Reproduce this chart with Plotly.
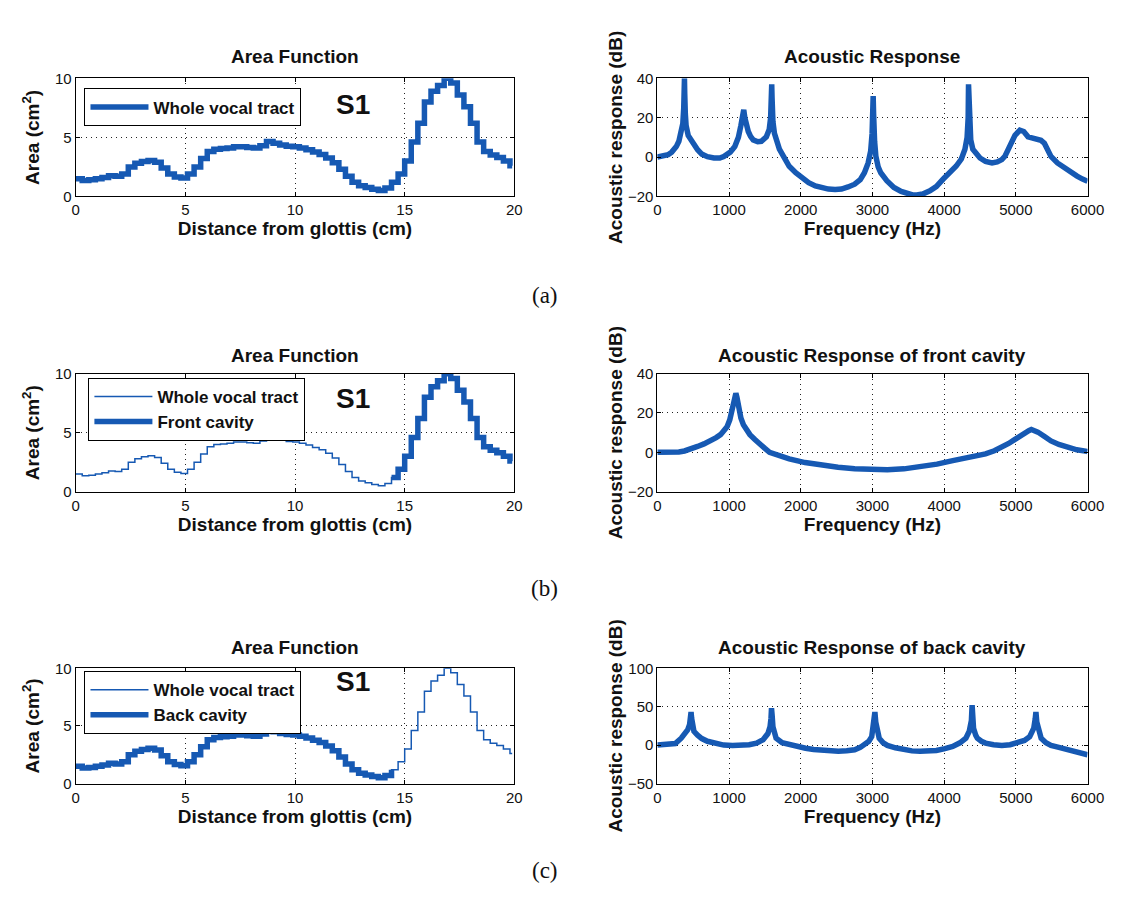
import plotly.graph_objects as go

# ---------------- data ----------------
dist_cm = [0.0, 0.3, 0.6, 0.9, 1.2, 1.5, 1.8, 2.1, 2.4, 2.7,
           3.0, 3.3, 3.6, 3.9, 4.2, 4.5, 4.8, 5.1, 5.4, 5.7,
           6.0, 6.3, 6.6, 6.9, 7.2, 7.5, 7.8, 8.1, 8.4, 8.7,
           9.0, 9.3, 9.6, 9.9, 10.2, 10.5, 10.8, 11.1, 11.4, 11.7,
           12.0, 12.3, 12.6, 12.9, 13.2, 13.5, 13.8, 14.1, 14.4, 14.7,
           15.0, 15.3, 15.6, 15.9, 16.2, 16.5, 16.8, 17.1, 17.4, 17.7,
           18.0, 18.3, 18.6, 18.9, 19.2, 19.5, 19.8, 19.9]
area_cm2 = [1.5, 1.35, 1.4, 1.5, 1.6, 1.75, 1.7, 1.9, 2.5, 2.8,
            2.95, 3.05, 2.9, 2.4, 1.9, 1.65, 1.55, 1.9, 2.5, 3.2,
            3.8, 4.0, 4.05, 4.1, 4.2, 4.2, 4.15, 4.1, 4.3, 4.65,
            4.5, 4.35, 4.25, 4.2, 4.1, 3.95, 3.75, 3.55, 3.25, 2.85,
            2.3, 1.7, 1.2, 0.9, 0.75, 0.6, 0.5, 0.7, 1.2, 1.9,
            3.0, 4.6, 6.2, 8.0, 8.9, 9.4, 10.0, 9.6, 8.6, 7.6,
            6.2, 4.6, 3.8, 3.5, 3.3, 3.0, 2.6, 2.6]
split_index = 48  # section at 14.4 cm separates back and front cavity

freq_a = [0, 100, 150, 200, 264, 300, 333, 355, 368, 375, 378, 382, 390, 401, 430, 470, 520, 561,
          620, 698, 789, 870, 926, 1017, 1080, 1130, 1165, 1190, 1205, 1220, 1245, 1268, 1300,
          1337, 1400, 1450, 1520, 1560, 1580, 1590, 1595, 1600, 1612, 1633, 1702, 1770, 1839,
          1930, 2021, 2110, 2204, 2300, 2386, 2480, 2569, 2660, 2752, 2830, 2888, 2940, 2975,
          2995, 3005, 3010, 3016, 3030, 3048, 3080, 3116, 3200, 3299, 3400, 3482, 3560, 3618,
          3700, 3801, 3890, 3984, 4080, 4166, 4240, 4290, 4320, 4335, 4340, 4348, 4360, 4371,
          4400, 4440, 4500, 4577, 4668, 4740, 4805, 4850, 4896, 4950, 4988, 5056, 5110, 5170,
          5240, 5307, 5350, 5398, 5440, 5490, 5580, 5672, 5760, 5854, 5930, 5991, 6000]
resp_a = [0, 0.5, 1.2, 2.5, 5.3, 8, 12, 17, 25, 35, 40, 32, 22, 16, 11, 8.5, 5.5, 3.7,
          1.5, 0.2, -0.5, -0.5, 0.3, 2.5, 5.3, 10, 16, 22, 24, 20, 15, 13, 10.5,
          8.7, 7.8, 8, 10.3, 14, 20, 30, 37, 30, 18, 12, 4, -0.5, -4.7,
          -8, -10.5, -13, -14.7, -15.8, -16.3, -16.5, -16.3, -15.2, -13.8, -11.5, -8, -3, 3,
          12, 22, 31, 22, 8, 0.3, -5, -8, -12, -15.5, -17.5, -18.8, -19.3, -19.3,
          -18.8, -17.2, -15, -11.3, -8, -4.7, -1, 4, 10, 20, 37, 22, 12, 8.7,
          4, 2, -0.5, -2.2, -3, -2.5, -1.3, 0.5, 3.7, 8, 11, 13.7, 13, 10.3,
          9.6, 9.5, 8.5, 7, 4, 0.3, -3, -5.5, -7.5, -9.7, -11.2, -12.2, -12.3]

freq_b = [0, 150, 300, 378, 470, 561, 650, 744, 820, 881, 930, 972, 1010, 1040, 1072, 1095,
          1110, 1131, 1165, 1200, 1245, 1291, 1360, 1428, 1500, 1565, 1700, 1839, 2060, 2295,
          2520, 2752, 2980, 3208, 3440, 3664, 3900, 4120, 4350, 4577, 4700, 4805, 4900, 4988,
          5060, 5125, 5180, 5216, 5260, 5307, 5400, 5490, 5600, 5717, 5850, 5991, 6000]
resp_b = [0, 0, 0.2, 0.7, 1.6, 3, 4.3, 5.8, 7.5, 9, 11, 13, 16.5, 21, 27, 30,
          28, 22, 17.5, 14, 11, 9, 6.5, 4, 2, 0, -1.8, -3.3, -5.2, -6.6,
          -7.6, -8.3, -8.7, -8.8, -8.4, -7.5, -6, -4.2, -2.5, -0.8, 0.8, 2.5, 4.5, 6.6,
          8.5, 10, 11, 11.6, 11.2, 10.3, 8, 5.8, 4, 2.5, 1.3, 0.5, 0.4]

freq_c = [0, 150, 250, 333, 380, 424, 450, 462, 470, 478, 490, 510, 561, 620, 698, 800,
          926, 1050, 1154, 1280, 1383, 1474, 1542, 1572, 1585, 1592, 1600, 1612, 1656, 1740,
          1839, 1950, 2067, 2180, 2295, 2410, 2524, 2640, 2752, 2830, 2888, 2950, 2990, 3015,
          3025, 3034, 3046, 3070, 3094, 3150, 3208, 3320, 3436, 3550, 3664, 3780, 3892, 4010,
          4120, 4220, 4303, 4350, 4380, 4390, 4398, 4410, 4440, 4463, 4520, 4577, 4690, 4805,
          4920, 5033, 5120, 5193, 5250, 5270, 5280, 5292, 5320, 5353, 5420, 5490, 5600, 5717,
          5850, 5991, 6000]
resp_c = [0, 0.3, 2, 9, 14, 20, 27, 35, 43, 35, 25, 18, 13, 8.5, 5, 2,
          0, -0.5, -0.5, 0.5, 2.6, 7, 15, 24, 35, 48, 40, 24, 9, 3,
          0.4, -2, -4, -5.8, -7, -7.8, -8, -7.3, -6, -3, 0.4, 5, 11, 25,
          36, 43, 30, 14, 9, 3, -0.4, -3.5, -6, -7.5, -8, -7.8, -7, -4.5,
          -1.7, 3, 9, 18, 32, 52, 40, 22, 13, 9, 5, 2.6, 0.5, -0.4,
          0.5, 2.6, 6, 11, 22, 34, 43, 30, 16, 9, 3, -0.4, -3, -6,
          -9, -12.4, -12.6]

area_ticks = [0, 5, 10]
dist_ticks = [0, 5, 10, 15, 20]
freq_ticks = [0, 1000, 2000, 3000, 4000, 5000, 6000]
resp_ticks_ab = [-20, 0, 20, 40]
resp_ticks_c = [-50, 0, 50, 100]

# ---------------- style ----------------
BLUE = "#1659b3"
FONT = "Liberation Sans, Arial, sans-serif"
THICK = 5.5
THIN = 1.5

W, H = 1133, 897
left_dom = [73 / W, 520 / W]
right_dom = [665.7 / W, 1104 / W]
row_dom = {
    "a": [1 - 191 / H, 1 - 70.7 / H],
    "b": [1 - 492 / H, 1 - 371.7 / H],
    "c": [1 - 789.5 / H, 1 - 672 / H],
}

fig = go.Figure()

def area_trace(x, y, width, name, xa, ya, legend, showlegend=True):
    return go.Scatter(x=x, y=y, mode="lines", line=dict(color=BLUE, width=width, shape="hv"),
                      name=name, xaxis=xa, yaxis=ya, legend=legend, showlegend=showlegend)

def resp_trace(x, y, xa, ya):
    return go.Scatter(x=x, y=y, mode="lines", line=dict(color=BLUE, width=5.5),
                      xaxis=xa, yaxis=ya, showlegend=False)

# (a)
fig.add_trace(area_trace(dist_cm, area_cm2, THICK, "Whole vocal tract", "x", "y", "legend"))
fig.add_trace(resp_trace(freq_a, resp_a, "x2", "y2"))
# (b)
fig.add_trace(area_trace(dist_cm, area_cm2, THIN, "Whole vocal tract", "x3", "y3", "legend2"))
fig.add_trace(area_trace(dist_cm[split_index:], area_cm2[split_index:], THICK, "Front cavity",
                         "x3", "y3", "legend2"))
fig.add_trace(resp_trace(freq_b, resp_b, "x4", "y4"))
# (c)
fig.add_trace(area_trace(dist_cm, area_cm2, THIN, "Whole vocal tract", "x5", "y5", "legend3"))
fig.add_trace(area_trace(dist_cm[:split_index + 1], area_cm2[:split_index + 1], THICK, "Back cavity",
                         "x5", "y5", "legend3"))
fig.add_trace(resp_trace(freq_c, resp_c, "x6", "y6"))

def common_axis(domain, anchor, rng, ticks, title, standoff):
    return dict(domain=domain, anchor=anchor, range=rng, tickvals=ticks,
                showline=True, linecolor="black", linewidth=1, mirror="ticks",
                ticks="inside", ticklen=4, tickcolor="black",
                showgrid=True, gridcolor="#222", gridwidth=1, griddash="1px,4px",
                zeroline=False, tickfont=dict(family=FONT, size=15, color="#111"),
                title=dict(text=title, standoff=standoff,
                           font=dict(family=FONT, size=19, color="#111", weight="bold")))

area_title = "Area (cm<sup>2</sup>)"
resp_title = "Acoustic response (dB)"
dist_title = "Distance from glottis (cm)"
freq_title = "Frequency (Hz)"

layout = dict(
    width=W, height=H, autosize=False,
    margin=dict(l=0, r=0, t=0, b=0),
    paper_bgcolor="white", plot_bgcolor="white",
    xaxis=common_axis(left_dom, "y", [0, 20], dist_ticks, dist_title, 1),
    yaxis=common_axis(row_dom["a"], "x", [0, 10], area_ticks, area_title, 10),
    xaxis2=common_axis(right_dom, "y2", [0, 6000], freq_ticks, freq_title, 1),
    yaxis2=common_axis(row_dom["a"], "x2", [-20, 40], resp_ticks_ab, resp_title, 0),
    xaxis3=common_axis(left_dom, "y3", [0, 20], dist_ticks, dist_title, 1),
    yaxis3=common_axis(row_dom["b"], "x3", [0, 10], area_ticks, area_title, 10),
    xaxis4=common_axis(right_dom, "y4", [0, 6000], freq_ticks, freq_title, 1),
    yaxis4=common_axis(row_dom["b"], "x4", [-20, 40], resp_ticks_ab, resp_title, 0),
    xaxis5=common_axis(left_dom, "y5", [0, 20], dist_ticks, dist_title, 1),
    yaxis5=common_axis(row_dom["c"], "x5", [0, 10], area_ticks, area_title, 10),
    xaxis6=common_axis(right_dom, "y6", [0, 6000], freq_ticks, freq_title, 1),
    yaxis6=common_axis(row_dom["c"], "x6", [-50, 100], resp_ticks_c, resp_title, 0),
)

def legend_box(x_px, y_px):
    return dict(x=x_px / W, y=1 - y_px / H, xanchor="left", yanchor="top",
                xref="paper", yref="paper",
                bgcolor="white", bordercolor="black", borderwidth=1,
                font=dict(family=FONT, size=17, color="#111", weight="bold"),
                tracegroupgap=0, itemwidth=58)

layout["legend"] = legend_box(82, 81)
layout["legend2"] = legend_box(86, 376)
layout["legend3"] = legend_box(82, 675)
fig.update_layout(**layout)

annotations = []
titles = [("Area Function", left_dom, 48), ("Acoustic Response", right_dom, 48),
          ("Area Function", left_dom, 353), ("Acoustic Response of front cavity", right_dom, 353),
          ("Area Function", left_dom, 651), ("Acoustic Response of back cavity", right_dom, 651)]
for text, dom, ypx in titles:
    annotations.append(dict(text=text, x=(dom[0] + dom[1]) / 2, y=1 - ypx / H,
                            xref="paper", yref="paper", showarrow=False,
                            xanchor="center", yanchor="middle",
                            font=dict(family=FONT, size=19, color="#111", weight="bold")))
for ypx in (97, 397, 686):
    annotations.append(dict(text="S1", x=356 / W, y=1 - ypx / H, xref="paper", yref="paper",
                            showarrow=False, xanchor="center", yanchor="middle",
                            font=dict(family=FONT, size=28, color="#111", weight="bold")))
for label, ypx in (("(a)", 292), ("(b)", 591), ("(c)", 878)):
    annotations.append(dict(text=label, x=551 / W, y=1 - ypx / H, xref="paper", yref="paper",
                            showarrow=False, xanchor="center", yanchor="middle",
                            font=dict(family="Liberation Serif, Times New Roman, serif",
                                      size=23, color="#111")))
fig.update_layout(annotations=annotations)

fig.write_html("out.html")
